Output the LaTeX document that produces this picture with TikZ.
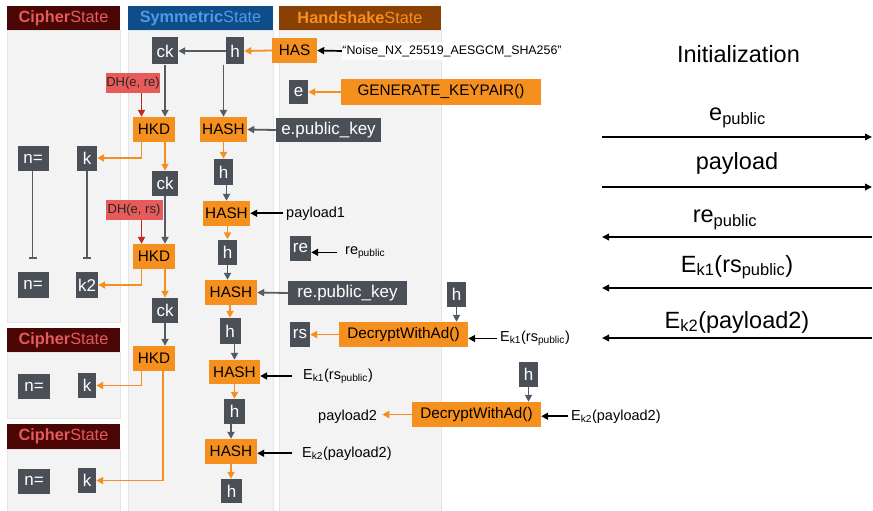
\documentclass[tikz,border=0pt]{standalone}
\usepackage{fontspec}
\setmainfont{Liberation Sans}
\usetikzlibrary{arrows.meta}

\definecolor{boxgray}{HTML}{4B5058}
\definecolor{boxorange}{HTML}{F5901E}
\definecolor{boxred}{HTML}{E85B5B}
\definecolor{dhline}{HTML}{C2281E}
\definecolor{panelbg}{HTML}{F3F3F3}
\definecolor{panelline}{HTML}{E4E4E4}
\definecolor{cipherhead}{HTML}{4A0505}
\definecolor{ciphertext}{HTML}{E35B5B}
\definecolor{symhead}{HTML}{0F4C8A}
\definecolor{symtext}{HTML}{4D9CE3}
\definecolor{hshead}{HTML}{8A3F03}
\definecolor{hstext}{HTML}{F5901E}
\definecolor{linegray}{HTML}{555B63}

\newcommand\setfs[1]{\fontsize{#1}{#1}\selectfont}

\tikzset{
  panel/.style={fill=panelbg, draw=panelline, line width=0.6pt},
  head/.style={inner sep=0pt, minimum height=24pt, font=\setfs{16.3}},
  gbox/.style={fill=boxgray, text=white, font=\setfs{17}, inner sep=0pt, minimum height=25pt},
  obox/.style={fill=boxorange, text=black, font=\setfs{15.3}, inner sep=0pt, minimum height=25pt},
  rbox/.style={fill=boxred, text=black!85, font=\setfs{13}, inner sep=0pt, minimum height=20pt},
  lbl/.style={font=\setfs{14.5}, inner xsep=3pt, inner ysep=0pt, anchor=base west},
  big/.style={font=\setfs{23.5}, inner sep=0pt, anchor=base},
  tip/.style={-{Triangle[length=7pt,width=7pt]}},
  garr/.style={tip, draw=linegray, line width=1.8pt},
  oarr/.style={tip, draw=boxorange, line width=1.8pt},
  karr/.style={tip, draw=black, line width=1.7pt},
  darr/.style={tip, draw=dhline, line width=1.8pt},
  barline/.style={-{Bar[width=8pt]}, draw=linegray, line width=1.8pt},
  flow/.style={-{Triangle[length=7pt,width=6.5pt]}, draw=black, line width=1.8pt},
}

\begin{document}
\begin{tikzpicture}[x=1pt,y=-1pt]
\useasboundingbox (0,0) rectangle (873,511);
\fill[white] (0,0) rectangle (873,511);

% ---- state panels ----
\path[panel] (7,30) rectangle (120,322);
\path[panel] (7,352) rectangle (120,418);
\path[panel] (7,449) rectangle (120,511);
\path[panel] (128,30) rectangle (273,511);
\path[panel] (279,30) rectangle (441,511);

\node[head, fill=cipherhead, text=ciphertext, minimum width=113pt] (cs1) at (63.5,18) {\bfseries Cipher\mdseries State};
\node[head, fill=cipherhead, text=ciphertext, minimum width=113pt] (cs2) at (63.5,340) {\bfseries Cipher\mdseries State};
\node[head, fill=cipherhead, text=ciphertext, minimum width=113pt, minimum height=25pt] (cs3) at (63.5,436.5) {\bfseries Cipher\mdseries State};
\node[head, fill=symhead, text=symtext, minimum width=145pt] (ss) at (200.5,18) {\bfseries Symmetric\mdseries State};
\node[head, fill=hshead, text=hstext, minimum width=162pt] (hs) at (360,18) {\bfseries Handshake\mdseries State};

% ---- boxes ----
\node[gbox, minimum width=26pt, minimum height=27pt] (ck1) at (165,51) {ck};
\node[gbox, minimum width=18pt, minimum height=27pt] (h0) at (235,51) {h};
\node[obox, minimum width=45pt] (has) at (294.5,50.5) {HAS};
\node[fill=white, text=black, font=\setfs{12.4}, inner sep=0pt, minimum width=220pt, minimum height=18pt] (noise) at (452,51) {“Noise\_NX\_25519\_AESGCM\_SHA256”};
\node[gbox, minimum width=19pt, minimum height=24pt] (e) at (298.5,92) {e};
\node[obox, minimum width=200pt, minimum height=26pt] (gen) at (441,92) {GENERATE\_KEYPAIR()};
\node[rbox, minimum width=54pt] (dh1) at (133,83) {DH(e, re)};
\node[obox, minimum width=42pt] (hkd1) at (154,129.5) {HKD};
\node[obox, minimum width=47pt] (hash1) at (223.5,129.5) {HASH};
\node[gbox, minimum width=105pt, minimum height=24pt] (epk) at (328.5,130) {e.public\_key};
\node[gbox, minimum width=31pt] (n1) at (33,158.5) {n=};
\node[gbox, minimum width=20pt] (k1) at (87,158) {k};
\node[gbox, minimum width=26pt] (ck2) at (165,183.5) {ck};
\node[gbox, minimum width=19pt, minimum height=26pt] (h1) at (223.5,172) {h};
\node[obox, minimum width=47pt] (hash2) at (226.5,213.5) {HASH};
\node[rbox, minimum width=57pt] (dh2) at (134,210) {DH(e, rs)};
\node[obox, minimum width=42pt] (hkd2) at (154,256.5) {HKD};
\node[gbox, minimum width=31pt, minimum height=26pt] (n2) at (33,285) {n=};
\node[gbox, minimum width=22pt, minimum height=26pt] (k2) at (87,285) {k2};
\node[gbox, minimum width=19pt] (h2) at (227.5,252) {h};
\node[gbox, minimum width=21pt] (re) at (300.5,248.5) {re};
\node[gbox, minimum width=26pt] (ck3) at (165,310.5) {ck};
\node[obox, minimum width=52pt] (hash3) at (231,292.5) {HASH};
\node[gbox, minimum width=119pt, minimum height=24pt] (repk) at (347.5,293) {re.public\_key};
\node[gbox, minimum width=19pt] (hr1) at (456.5,294.5) {h};
\node[gbox, minimum width=20pt] (rs) at (300,334.5) {rs};
\node[obox, minimum width=129pt] (dec1) at (403.5,334.5) {DecryptWithAd()};
\node[gbox, minimum width=21pt, minimum height=26pt] (h3) at (230,331) {h};
\node[obox, minimum width=42pt] (hkd3) at (154,358.5) {HKD};
\node[obox, minimum width=51pt, minimum height=24pt] (hash4) at (234.5,372) {HASH};
\node[gbox, minimum width=18pt] (k3) at (87,385.5) {k};
\node[gbox, minimum width=32pt] (n3) at (34,386.5) {n=};
\node[gbox, minimum width=19pt] (hr2) at (528.5,374.5) {h};
\node[gbox, minimum width=21pt] (h4) at (234.5,411.5) {h};
\node[obox, minimum width=129pt] (dec2) at (476.5,414.5) {DecryptWithAd()};
\node[obox, minimum width=52pt] (hash5) at (231,451.5) {HASH};
\node[gbox, minimum width=32pt] (n4) at (34,481) {n=};
\node[gbox, minimum width=18pt] (k4) at (87,480.5) {k};
\node[gbox, minimum width=21pt, minimum height=24pt] (h5) at (231.5,491) {h};

% ---- plain labels ----
\node[lbl] (p1) at (283,217) {payload1};
\node[lbl] (relab) at (342,254) {re\textsubscript{public}};
\node[lbl] (ek1r) at (497,341.5) {E\textsubscript{k1}(rs\textsubscript{public})};
\node[lbl] (ek1l) at (300,379) {E\textsubscript{k1}(rs\textsubscript{public})};
\node[lbl] (ek2l) at (299,457) {E\textsubscript{k2}(payload2)};
\node[lbl] (p2) at (315,420) {payload2};
\node[lbl] (ek2r) at (568,420) {E\textsubscript{k2}(payload2)};

% ---- tap points for the DH / HKD branches ----
\coordinate (t1) at ([xshift=8.7pt]hkd1.north west);
\coordinate (t2) at ([xshift=8.7pt]hkd2.north west);
\coordinate (n1end) at (32.5,259);
\coordinate (k1end) at (87,259);

% ---- connectors: protocol name, key generation ----
\draw[karr] (noise.west) -- (has.east);
\draw[oarr] (has.west) -- (h0.east);
\draw[garr] (h0.west) -- (ck1.east);
\draw[oarr] (gen.west) -- (e.east);

% ---- first DH ----
\draw[darr] (t1 |- dh1.south) -- (t1);
\draw[garr] (ck1.south) -- (ck1.south |- hkd1.north);
\draw[garr] (hash1.north |- h0.south) -- (hash1.north);
\draw[garr] (epk.west) -- (hash1.east);
\draw[oarr] ([xshift=8.7pt]hkd1.south west) |- (k1.east);
\draw[oarr] (ck2.north |- hkd1.south) -- (ck2.north);
\draw[oarr] (h1.north |- hash1.south) -- (h1.north);
\draw[garr] (hash2.north |- h1.south) -- (hash2.north);
\draw[karr] (p1.west) -- (p1.west -| hash2.east);

% ---- second DH ----
\draw[darr] (t2 |- dh2.south) -- (t2);
\draw[garr] (ck2.south) -- (ck2.south |- hkd2.north);
\draw[barline] (n1.south -| n1end) -- (n1end);
\draw[barline] (k1.south) -- (k1end);
\draw[oarr] ([xshift=8.7pt]hkd2.south west) |- (k2.east);
\draw[oarr] (ck3.north |- hkd2.south) -- (ck3.north);
\draw[oarr] (h2.north |- hash2.south) -- (h2.north);
\draw[garr] (h2.south) -- (h2.south |- hash3.north);
\draw[garr] (repk.west) -- (hash3.east);
\draw[karr, shorten <=5pt] (relab.west) -- (relab.west -| re.east);

% ---- static key decryption ----
\draw[garr] (hr1.south) -- (hr1.south |- dec1.north);
\draw[oarr] (dec1.west) -- (rs.east);
\draw[karr] (ek1r.west) -- (ek1r.west -| dec1.east);
\draw[oarr] (h3.north |- hash3.south) -- (h3.north);
\draw[garr] (hash4.north |- h3.south) -- (hash4.north);
\draw[karr, shorten <=8pt] (ek1l.west) -- (ek1l.west -| hash4.east);
\draw[oarr] (h4.north |- hash4.south) -- (h4.north);
\draw[garr] (hash5.north |- h4.south) -- (hash5.north);
\draw[karr, shorten <=7pt] (ek2l.west) -- (ek2l.west -| hash5.east);
\draw[oarr] (hash5.south) -- (hash5.south |- h5.north);

% ---- final split ----
\draw[garr] (ck3.south) -- (ck3.south |- hkd3.north);
\draw[oarr] ([xshift=8.7pt]hkd3.south west) |- (k3.east);
\draw[oarr] ([xshift=-12pt]hkd3.south east) |- (k4.east);

% ---- payload decryption ----
\draw[garr] (hr2.south) -- (hr2.south |- dec2.north);
\draw[oarr, shorten >=2pt] (dec2.west) -- (dec2.west -| p2.east);
\draw[karr] (ek2r.west) -- (ek2r.west -| dec2.east);

% ---- message flow ----
\node[big] (init) at (738.5,62.3) {Initialization};
\node[big] (m1) at (737.5,121) {e\textsubscript{public}};
\node[big] (m2) at (737,169.3) {payload};
\node[big] (m3) at (725,222.7) {re\textsubscript{public}};
\node[big] (m4) at (737,272) {E\textsubscript{k1}(rs\textsubscript{public})};
\node[big] (m5) at (737,328) {E\textsubscript{k2}(payload2)};
\coordinate (f1a) at (602,137); \coordinate (f1b) at (872,137);
\coordinate (f2a) at (602,187); \coordinate (f2b) at (872,187);
\coordinate (f3a) at (602,237); \coordinate (f3b) at (872,237);
\coordinate (f4a) at (602,288); \coordinate (f4b) at (872,288);
\coordinate (f5a) at (602,338); \coordinate (f5b) at (872,338);
\draw[flow] (f1a) -- (f1b);
\draw[flow] (f2a) -- (f2b);
\draw[flow] (f3b) -- (f3a);
\draw[flow] (f4b) -- (f4a);
\draw[flow] (f5b) -- (f5a);
\end{tikzpicture}
\end{document}
